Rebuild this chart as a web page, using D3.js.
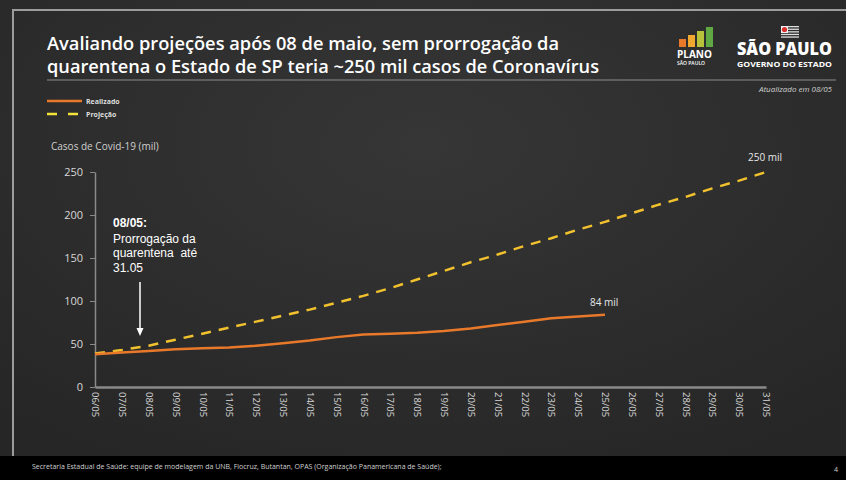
<!DOCTYPE html>
<html>
<head>
<meta charset="utf-8">
<script src="https://cdnjs.cloudflare.com/ajax/libs/d3/7.8.5/d3.min.js"></script>
<style>
  body { margin: 0; background: #222; }
  svg { display: block; }
  text { font-family: "Open Sans", sans-serif; }
  .axis path, .axis line { stroke: #8a8a8a; }
  .axis text { fill: #d8d8d8; }
</style>
</head>
<body>
<script>

var days = ["06/05","07/05","08/05","09/05","10/05","11/05","12/05","13/05","14/05","15/05",
            "16/05","17/05","18/05","19/05","20/05","21/05","22/05","23/05","24/05","25/05",
            "26/05","27/05","28/05","29/05","30/05","31/05"];

// casos em mil
var realizado = [38, 40, 42, 44, 45, 46, 48, 51, 54, 58, 61, 62, 63, 65, 68, 72, 76, 80, 82, 84];
var projecao = [39, 43, 48, 55, 62, 69, 76, 83, 90, 98, 106, 115, 125, 135, 145, 154, 164, 173,
                183, 192, 202, 212, 221, 231, 240, 250];
var yTicks = [0, 50, 100, 150, 200, 250];

var W = 846, H = 480;

var svg = d3.select("body").append("svg")
    .attr("width", W)
    .attr("height", H);

// fundo
var defs = svg.append("defs");
var grad = defs.append("radialGradient")
    .attr("id", "bg").attr("cx", "50%").attr("cy", "30%").attr("r", "75%");
grad.append("stop").attr("offset", "0%").attr("stop-color", "#363636");
grad.append("stop").attr("offset", "100%").attr("stop-color", "#262626");

svg.append("rect").attr("width", W).attr("height", H).attr("fill", "url(#bg)");

// moldura do slide
svg.append("path")
    .attr("d", "M13,456 L13,10 L846,10")
    .attr("fill", "none")
    .attr("stroke", "#9c9c9c")
    .attr("stroke-width", 2);

// rodapé
svg.append("rect").attr("x", 0).attr("y", 456).attr("width", W).attr("height", 24).attr("fill", "#000");
svg.append("text")
    .attr("x", 32).attr("y", 469)
    .attr("fill", "#d0d0d0")
    .style("font-size", "7px")
    .text("Secretaria Estadual de Saúde: equipe de modelagem da UNB, Fiocruz, Butantan, OPAS (Organização Panamericana de Saúde);");
svg.append("text")
    .attr("x", 834).attr("y", 472)
    .attr("fill", "#d0d0d0")
    .style("font-size", "7px")
    .text("4");

// título
var title = svg.append("text")
    .attr("fill", "#fff")
    .style("font-size", "18px")
    .style("font-weight", 600);
title.append("tspan").attr("x", 47).attr("y", 50)
    .attr("textLength", 512).attr("lengthAdjust", "spacingAndGlyphs")
    .text("Avaliando projeções após 08 de maio, sem prorrogação da");
title.append("tspan").attr("x", 47).attr("y", 73)
    .attr("textLength", 552).attr("lengthAdjust", "spacingAndGlyphs")
    .text("quarentena o Estado de SP teria ~250 mil casos de Coronavírus");

svg.append("line")
    .attr("x1", 47).attr("x2", 836).attr("y1", 80).attr("y2", 80)
    .attr("stroke", "#8c8c8c").attr("stroke-width", 1);

// logos
var barCols = ["#e8792b", "#f0a830", "#b7c23a", "#5fa843"];
var barH = [8, 12, 16, 20];
barCols.forEach(function(c, i) {
  svg.append("rect")
      .attr("x", 679 + i * 9).attr("y", 47 - barH[i])
      .attr("width", 7).attr("height", barH[i])
      .attr("fill", c);
});
svg.append("text").attr("x", 677).attr("y", 58).attr("fill", "#fff")
    .style("font-size", "10px").style("font-weight", 700).text("PLANO");
svg.append("text").attr("x", 677).attr("y", 65).attr("fill", "#fff")
    .style("font-size", "5px").style("font-weight", 600).text("SÃO PAULO");

// bandeira SP simplificada
var flag = svg.append("g").attr("transform", "translate(781,26)");
for (var i = 0; i < 5; i++) {
  flag.append("rect").attr("x", 0).attr("y", i * 2.6).attr("width", 18).attr("height", 1.3)
      .attr("fill", "#ddd");
}
flag.append("rect").attr("x", 0).attr("y", 0).attr("width", 7).attr("height", 7).attr("fill", "#eee");
flag.append("circle").attr("cx", 3.5).attr("cy", 3.5).attr("r", 2.6).attr("fill", "#d9302e");

svg.append("text").attr("x", 737).attr("y", 55).attr("fill", "#fff")
    .style("font-size", "17px").style("font-weight", 800)
    .attr("textLength", 95).attr("lengthAdjust", "spacingAndGlyphs")
    .text("SÃO PAULO");
svg.append("text").attr("x", 737).attr("y", 67).attr("fill", "#fff")
    .style("font-size", "6.5px").style("font-weight", 700)
    .attr("textLength", 95).attr("lengthAdjust", "spacingAndGlyphs")
    .text("GOVERNO DO ESTADO");

svg.append("text")
    .attr("x", 832).attr("y", 92)
    .attr("text-anchor", "end")
    .attr("fill", "#cfcfcf")
    .style("font-size", "8px")
    .style("font-style", "italic")
    .text("Atualizado em 08/05");

// legenda
svg.append("line").attr("x1", 47).attr("x2", 82).attr("y1", 101).attr("y2", 101)
    .attr("stroke", "#e8792b").attr("stroke-width", 2.5);
svg.append("text").attr("x", 86).attr("y", 104).attr("fill", "#ddd")
    .style("font-size", "7px").style("font-weight", 700).text("Realizado");
svg.append("line").attr("x1", 47).attr("x2", 82).attr("y1", 114).attr("y2", 114)
    .attr("stroke", "#f3e23a").attr("stroke-width", 2.5)
    .attr("stroke-dasharray", "10,11");
svg.append("text").attr("x", 86).attr("y", 117).attr("fill", "#ddd")
    .style("font-size", "7px").style("font-weight", 700).text("Projeção");

// gráfico
var x = d3.scalePoint().domain(days).range([95, 766]);
var y = d3.scaleLinear().domain([0, 250]).range([387, 172]);

svg.append("text")
    .attr("x", 51).attr("y", 150)
    .attr("fill", "#d0d0d0")
    .style("font-size", "10px")
    .text("Casos de Covid-19 (mil)");

var yAxis = svg.append("g")
    .attr("class", "axis")
    .attr("transform", "translate(95,0)")
    .call(d3.axisLeft(y).tickValues(yTicks).tickSize(5).tickSizeOuter(0));
yAxis.selectAll("text").style("font-size", "11px").attr("dx", "-4");
yAxis.select(".domain").attr("stroke-width", 1.5);

var xAxis = svg.append("g")
    .attr("class", "axis")
    .attr("transform", "translate(0,387)")
    .call(d3.axisBottom(x).tickSize(0).tickSizeOuter(0));
xAxis.select(".domain").attr("stroke-width", 2.5).attr("stroke", "#777");
xAxis.selectAll("text")
    .style("font-size", "9.5px")
    .attr("text-anchor", "start")
    .attr("transform", "rotate(90)")
    .attr("x", 5)
    .attr("y", 0)
    .attr("dy", "0.35em");

var line = d3.line()
    .x(function(d, i) { return x(days[i]); })
    .y(function(d) { return y(d); });

svg.append("path")
    .datum(projecao)
    .attr("d", line)
    .attr("fill", "none")
    .attr("stroke", "#f2c12e")
    .attr("stroke-width", 2.5)
    .attr("stroke-dasharray", "10,8");

svg.append("path")
    .datum(realizado)
    .attr("d", line)
    .attr("fill", "none")
    .attr("stroke", "#e8792b")
    .attr("stroke-width", 2.5);

// rótulos finais
svg.append("text")
    .attr("x", x(days[projecao.length - 1]) - 18).attr("y", y(projecao[projecao.length - 1]) - 11)
    .attr("fill", "#e8e8e8").style("font-size", "10px")
    .text("250 mil");
svg.append("text")
    .attr("x", x(days[realizado.length - 1]) - 15).attr("y", y(realizado[realizado.length - 1]) - 9)
    .attr("fill", "#e8e8e8").style("font-size", "10px")
    .text("84 mil");

// anotação
var ann = svg.append("text")
    .attr("fill", "#fff")
    .style("font-family", "'Liberation Sans', Arial, sans-serif")
    .style("font-size", "12px");
ann.append("tspan").attr("x", 113).attr("y", 227).style("font-weight", 700).text("08/05:");
ann.append("tspan").attr("x", 113).attr("y", 243).text("Prorrogação da");
ann.append("tspan").attr("x", 113).attr("y", 257).text("quarentena\u00a0 até");
ann.append("tspan").attr("x", 113).attr("y", 272).text("31.05");

var ax = 140;
svg.append("line")
    .attr("x1", ax).attr("x2", ax).attr("y1", 282).attr("y2", 330)
    .attr("stroke", "#fff").attr("stroke-width", 1.5);
svg.append("path")
    .attr("d", "M" + (ax - 3.5) + ",328 L" + (ax + 3.5) + ",328 L" + ax + ",336 Z")
    .attr("fill", "#fff");

</script>
</body>
</html>
